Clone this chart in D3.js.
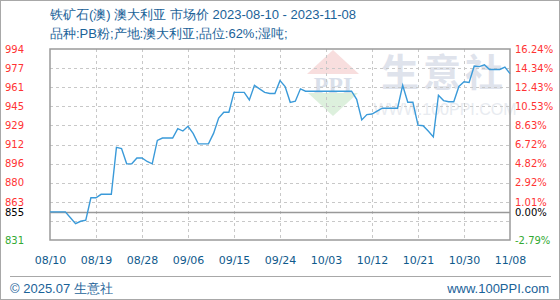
<!DOCTYPE html>
<html><head><meta charset="utf-8">
<script src="https://cdn.jsdelivr.net/npm/d3@7"></script>
<style>
html,body{margin:0;padding:0;background:#fff;}
svg{display:block;font-family:"Liberation Sans",Arial,sans-serif;}
</style></head>
<body><svg id="c" width="560" height="300"></svg>
<script>
const titleLine1 = "铁矿石(澳) 澳大利亚 市场价 2023-08-10 - 2023-11-08";
const titleLine2 = "品种:PB粉;产地:澳大利亚;品位:62%;湿吨;";
const footerLeft = "© 2025.07 生意社";
const footerRight = "www.100PPI.com";
const startDate = "2023-08-10";
const endDate = "2023-11-08";
const xTickLabels = ["08/10","08/19","08/28","09/06","09/15","09/24","10/03","10/12","10/21","10/30","11/08"];
const prices = [855,855,855,855,850,845,847,848,867,867,
  870,870,870,910,909,896,896,901,901,898,
  896,916,918,918,918,926,924,928,922,913,
  913,913,922,935,940,940,957,957,957,950.5,
  963,960,957,956,956,967,962,948.5,949.5,960,
  958,958,958,958,958,958,958,958,958,958,
  951,933.5,938,938.5,941,943.5,943.5,943.5,943.5,963,
  948.5,948.5,929,928.5,924,919,954.5,950,949,949,
  962,966,965.5,979.5,979,980.5,976.5,976.5,976.5,978.5,973];
const yTicks = [831,847.3,863.6,879.9,896.2,912.5,928.8,945.1,961.4,977.7,994];
const yLeftLabels = ["831","","863","880","896","912","929","945","961","977","994"];
const yRightLabels = ["-2.79%","","1.01%","2.92%","4.82%","6.72%","8.63%","10.53%","12.43%","14.34%","16.24%"];
const baseValue = 855;
const baseLeftLabel = "855";
const baseRightLabel = "0.00%";

const svg = d3.select("#c");
const L = 50, R = 510, T = 49, B = 240;
const parse = d3.timeParse("%Y-%m-%d");
const dates = d3.timeDays(parse(startDate), d3.timeDay.offset(parse(endDate), 1));
const data = dates.map((d, i) => ({d, v: prices[i]}));
const x = d3.scaleTime().domain([parse(startDate), parse(endDate)]).range([L, R]);
const y = d3.scaleLinear().domain([831, 994]).range([B, T]);
const fmt = d3.timeFormat("%m/%d");
const xTickDates = xTickLabels.map(s => dates.find(d => fmt(d) === s));
const lblFont = "DejaVu Sans, sans-serif";
const lblSize = 10;

// outer border
svg.append("rect").attr("x",0.5).attr("y",0.5).attr("width",559).attr("height",299)
  .attr("fill","none").attr("stroke","#a8a8a8");

// titles
const tc = "#1a6298";
svg.append("text").attr("x",50).attr("y",19).attr("font-size",13).attr("fill",tc).text(titleLine1);
svg.append("text").attr("x",50).attr("y",38).attr("font-size",13).attr("fill",tc).text(titleLine2);

// watermark
const wm = svg.append("g");
wm.append("path").attr("d","M333,50 L359,74 L307,74 Z").attr("fill","#f8dede");
wm.append("path").attr("d","M308,93 L358,93 L333,116 Z").attr("fill","#ddf0dd");
wm.append("text").attr("x",333).attr("y",93).attr("text-anchor","middle").attr("font-size",24)
  .attr("font-weight","bold").attr("font-family","Liberation Serif,serif").attr("fill","#d9dfea").text("PPI");
wm.append("text").attr("x",381).attr("y",86).attr("font-size",38)
  .attr("letter-spacing",4).attr("font-family","Noto Sans CJK SC").attr("font-weight","bold").attr("fill","#dfe3ec").text("生意社");
wm.append("text").attr("x",445).attr("y",115).attr("text-anchor","middle").attr("font-size",16)
  .attr("fill","#e8ebf0").text("WWW.100PPI.COM");

// grid
const grid = svg.append("g").attr("stroke","#c8c8c8").attr("stroke-dasharray","3,3").attr("shape-rendering","crispEdges");
yTicks.slice(1, -1).forEach(t => grid.append("line").attr("x1",L).attr("x2",R).attr("y1",Math.round(y(t))+0.5).attr("y2",Math.round(y(t))+0.5));
xTickDates.slice(1, -1).forEach(t => grid.append("line").attr("y1",T).attr("y2",B).attr("x1",Math.round(x(t))+0.5).attr("x2",Math.round(x(t))+0.5));
// base line
svg.append("line").attr("x1",L).attr("x2",R).attr("y1",Math.round(y(baseValue))+0.5).attr("y2",Math.round(y(baseValue))+0.5)
  .attr("stroke","#999").attr("stroke-width",1.5);

// plot frame
svg.append("rect").attr("x",L).attr("y",T).attr("width",R-L).attr("height",B-T)
  .attr("fill","none").attr("stroke","#9a9a9a").attr("stroke-width",1.5);

// line
svg.append("path").datum(data).attr("fill","none").attr("stroke","#3a9ad9").attr("stroke-width",1.4)
  .attr("d", d3.line().x(d => x(d.d)).y(d => y(d.v)));

// y axes labels
function colorFor(i){ return i === 0 ? "#33aa33" : "#ff3333"; }
const yl = svg.append("g").call(d3.axisLeft(y).tickValues(yTicks).tickSize(0).tickFormat((d,i)=>yLeftLabels[i]));
yl.select(".domain").remove();
yl.selectAll("text").attr("x",5).attr("text-anchor","start").attr("font-size",lblSize)
  .attr("font-family",lblFont).attr("fill",(d,i)=>colorFor(i));
const yr = svg.append("g").attr("transform",`translate(${R},0)`).call(d3.axisRight(y).tickValues(yTicks).tickSize(0).tickFormat((d,i)=>yRightLabels[i]));
yr.select(".domain").remove();
yr.selectAll("text").attr("x",5).attr("font-size",lblSize)
  .attr("font-family",lblFont).attr("fill",(d,i)=>colorFor(i));
svg.append("text").attr("x",5).attr("y",y(baseValue)+1).attr("dy","0.35em").attr("font-size",lblSize)
  .attr("font-family",lblFont).attr("fill","#000").text(baseLeftLabel);
svg.append("text").attr("x",R+5).attr("y",y(baseValue)+1).attr("dy","0.35em").attr("font-size",lblSize)
  .attr("font-family",lblFont).attr("fill","#000").text(baseRightLabel);

// x axis labels
const xa = svg.append("g").attr("transform",`translate(0,${B})`).call(d3.axisBottom(x).tickValues(xTickDates).tickSize(0).tickFormat(fmt));
xa.select(".domain").remove();
xa.selectAll("text").attr("y",16).attr("font-size",11).attr("font-family",lblFont).attr("fill","#0f5a8c");

// footer
svg.append("line").attr("x1",10).attr("x2",551).attr("y1",276.5).attr("y2",276.5).attr("stroke","#a8a8a8");
svg.append("text").attr("x",10).attr("y",293).attr("font-size",13).attr("fill",tc).text(footerLeft);
svg.append("text").attr("x",549).attr("y",293).attr("text-anchor","end").attr("font-size",13).attr("fill",tc).text(footerRight);
</script></body></html>
